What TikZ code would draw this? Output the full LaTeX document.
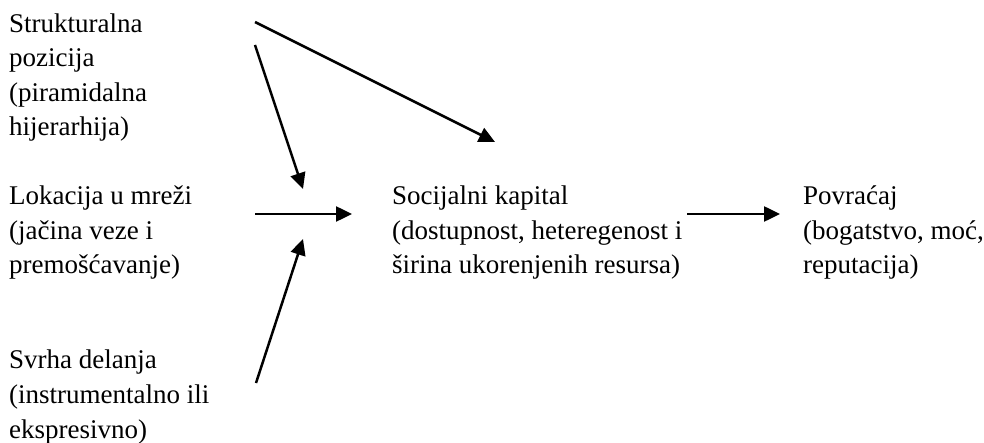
\documentclass[tikz,border=0pt]{standalone}
\usepackage{fontspec}
\setmainfont{Liberation Serif}
\usetikzlibrary{arrows.meta}
\begin{document}
\begin{tikzpicture}[x=1pt,y=-1pt,
  lbl/.style={anchor=base west,inner sep=0pt,align=left,
    font=\fontsize{27}{34.6}\selectfont},
  arr/.style={line width=2.5pt,-{Triangle[length=16pt,width=15pt]}}]
\useasboundingbox (0,0) rectangle (984,443);
\node[lbl] (sp) at (9,136) {Strukturalna\\pozicija\\(piramidalna\\hijerarhija)};
\node[lbl] (lm) at (9,274) {Lokacija u mreži\\(jačina veze i\\premošćavanje)};
\node[lbl] (sd) at (9,438) {Svrha delanja\\(instrumentalno ili\\ekspresivno)};
\node[lbl] (sk) at (392,274) {Socijalni kapital\\(dostupnost, heteregenost i\\širina ukorenjenih resursa)};
\node[lbl] (pv) at (803,274) {Povraćaj\\(bogatstvo, moć,\\reputacija)};
\coordinate (a1s) at (255,22);  \coordinate (a1e) at (495,142);
\coordinate (a2s) at (255,45);  \coordinate (a2e) at (303,189);
\coordinate (a3s) at (255,214); \coordinate (a3e) at (352,214);
\coordinate (a4s) at (256,383); \coordinate (a4e) at (303,239);
\coordinate (a5s) at (687,214); \coordinate (a5e) at (780,214);
\draw[arr] (a1s) -- (a1e);
\draw[arr] (a2s) -- (a2e);
\draw[arr] (a3s) -- (a3e);
\draw[arr] (a4s) -- (a4e);
\draw[arr] (a5s) -- (a5e);
\end{tikzpicture}
\end{document}
